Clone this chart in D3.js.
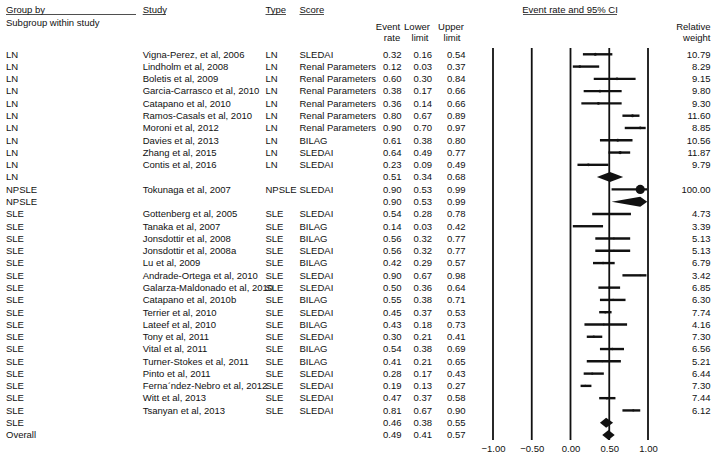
<!DOCTYPE html>
<html>
<head>
<meta charset="utf-8">
<script src="https://cdn.jsdelivr.net/npm/d3@7"></script>
<style>
  body { margin: 0; background: #fff; }
  svg text { font-family: "Liberation Sans", Arial, sans-serif; font-size: 9.5px; fill: #111; }
</style>
</head>
<body>
<script>
// rows of the forest plot, top to bottom
const groupBy = ["LN","LN","LN","LN","LN","LN","LN","LN","LN","LN","LN",
  "NPSLE","NPSLE",
  "SLE","SLE","SLE","SLE","SLE","SLE","SLE","SLE","SLE","SLE","SLE","SLE","SLE","SLE","SLE","SLE","SLE","SLE",
  "Overall"];
const studyNames = ["Vigna-Perez, et al, 2006","Lindholm et al, 2008","Boletis et al, 2009","Garcia-Carrasco et al, 2010",
  "Catapano et al, 2010","Ramos-Casals et al, 2010","Moroni et al, 2012","Davies et al, 2013","Zhang et al, 2015",
  "Contis et al, 2016","",
  "Tokunaga et al, 2007","",
  "Gottenberg et al, 2005","Tanaka et al, 2007","Jonsdottir et al, 2008","Jonsdottir et al, 2008a","Lu et al, 2009",
  "Andrade-Ortega et al, 2010","Galarza-Maldonado et al, 2010","Catapano et al, 2010b","Terrier et al, 2010",
  "Lateef et al, 2010","Tony et al, 2011","Vital et al, 2011","Turner-Stokes et al, 2011","Pinto et al, 2011",
  "Fernaˊndez-Nebro et al, 2012","Witt et al, 2013","Tsanyan et al, 2013","",
  ""];
const typeLabels = ["LN","LN","LN","LN","LN","LN","LN","LN","LN","LN","",
  "NPSLE","",
  "SLE","SLE","SLE","SLE","SLE","SLE","SLE","SLE","SLE","SLE","SLE","SLE","SLE","SLE","SLE","SLE","SLE","",
  ""];
const scoreLabels = ["SLEDAI","Renal Parameters","Renal Parameters","Renal Parameters","Renal Parameters",
  "Renal Parameters","Renal Parameters","BILAG","SLEDAI","SLEDAI","",
  "SLEDAI","",
  "SLEDAI","BILAG","BILAG","SLEDAI","BILAG","SLEDAI","SLEDAI","BILAG","SLEDAI","BILAG","SLEDAI","BILAG",
  "BILAG","SLEDAI","SLEDAI","SLEDAI","SLEDAI","",
  ""];
const eventRate = [0.32,0.12,0.60,0.38,0.36,0.80,0.90,0.61,0.64,0.23,0.51,
  0.90,0.90,
  0.54,0.14,0.56,0.56,0.42,0.90,0.50,0.55,0.45,0.43,0.30,0.54,0.41,0.28,0.19,0.47,0.81,0.46,
  0.49];
const lowerLimit = [0.16,0.03,0.30,0.17,0.14,0.67,0.70,0.38,0.49,0.09,0.34,
  0.53,0.53,
  0.28,0.03,0.32,0.32,0.29,0.67,0.36,0.38,0.37,0.18,0.21,0.38,0.21,0.17,0.13,0.37,0.67,0.38,
  0.41];
const upperLimit = [0.54,0.37,0.84,0.66,0.66,0.89,0.97,0.80,0.77,0.49,0.68,
  0.99,0.99,
  0.78,0.42,0.77,0.77,0.57,0.98,0.64,0.71,0.53,0.73,0.41,0.69,0.65,0.43,0.27,0.58,0.90,0.55,
  0.57];
const relWeight = [10.79,8.29,9.15,9.80,9.30,11.60,8.85,10.56,11.87,9.79,null,
  100.00,null,
  4.73,3.39,5.13,5.13,6.79,3.42,6.85,6.30,7.74,4.16,7.30,6.56,5.21,6.44,7.30,7.44,6.12,null,
  null];
const axisTicks = [-1, -0.5, 0, 0.5, 1];

const W = 728, H = 463;
const svg = d3.select("body").append("svg").attr("width", W).attr("height", H);

const x = d3.scaleLinear().domain([-1, 1]).range([493, 648]);
const y = d3.scaleLinear().domain([0, groupBy.length - 1]).range([54.3, 435]);
const fmt = d3.format(".2f");

const rows = groupBy.map((g, i) => ({
  i, group: g, study: studyNames[i], type: typeLabels[i], score: scoreLabels[i],
  est: eventRate[i], lo: lowerLimit[i], hi: upperLimit[i], w: relWeight[i]
}));

// header
const head = svg.append("g");
function hText(t, tx, ty, anchor) {
  head.append("text").attr("x", tx).attr("y", ty).attr("text-anchor", anchor || "start").text(t);
}
function uline(x1, x2, yy) {
  head.append("line").attr("x1", x1).attr("x2", x2).attr("y1", yy).attr("y2", yy)
    .attr("stroke", "#222").attr("stroke-width", 0.8);
}
hText("Group by", 6, 13); uline(6, 136, 14.5);
hText("Subgroup within study", 6, 25.5);
hText("Study", 142.7, 13); uline(142.7, 166, 14.5);
hText("Type", 265.5, 13); uline(265.5, 286, 14.5);
hText("Score", 299.5, 13); uline(299.5, 324, 14.5);
hText("Event rate and 95% CI", 570, 13, "middle"); uline(523, 617, 14.5);
hText("Event", 388, 29.5, "middle"); hText("rate", 392, 41, "middle");
hText("Lower", 417, 29.5, "middle"); hText("limit", 420, 41, "middle");
hText("Upper", 451, 29.5, "middle"); hText("limit", 452, 41, "middle");
hText("Relative", 710.5, 29.5, "end"); hText("weight", 710.5, 41, "end");

// vertical reference lines at each tick
const plot = svg.append("g");
plot.selectAll("line.ref").data(axisTicks).join("line").attr("class", "ref")
  .attr("x1", d => x(d)).attr("x2", d => x(d))
  .attr("y1", 48).attr("y2", 440)
  .attr("stroke", "#111").attr("stroke-width", 1.8);

// axis labels
const axis = d3.axisBottom(x).tickValues(axisTicks).tickFormat(fmt).tickSize(0).tickPadding(4);
const ax = svg.append("g").attr("transform", "translate(0,441)").call(axis);
ax.select(".domain").remove();
ax.selectAll("text").attr("font-size", null).attr("font-family", null).attr("fill", null);

// table text
const tbl = svg.append("g");
function col(key, cx, anchor, f) {
  tbl.selectAll(null).data(rows).join("text")
    .attr("x", cx).attr("y", d => y(d.i)).attr("dy", "0.35em")
    .attr("text-anchor", anchor)
    .text(d => f ? f(d[key]) : d[key]);
}
col("group", 6, "start");
col("study", 142.7, "start");
col("type", 265.5, "start");
col("score", 299.5, "start");
col("est", 401.5, "end", fmt);
col("lo", 432, "end", fmt);
col("hi", 465.5, "end", fmt);
col("w", 710.5, "end", v => v == null ? "" : fmt(v));

// study CIs and markers
const studies = rows.filter(d => d.w != null);
plot.selectAll("line.ci").data(studies).join("line").attr("class", "ci")
  .attr("x1", d => x(d.lo)).attr("x2", d => x(d.hi))
  .attr("y1", d => y(d.i)).attr("y2", d => y(d.i))
  .attr("stroke", "#111").attr("stroke-width", 2.4);
plot.selectAll("circle.pt").data(studies).join("circle").attr("class", "pt")
  .attr("cx", d => x(d.est)).attr("cy", d => y(d.i))
  .attr("r", d => 4.6 * Math.sqrt(d.w / 100))
  .attr("fill", "#111");

// summary diamonds
const sums = rows.filter(d => d.w == null);
plot.selectAll("path.dia").data(sums).join("path").attr("class", "dia")
  .attr("d", d => {
    const cy = y(d.i), h = 5;
    return `M${x(d.lo)},${cy}L${x(d.est)},${cy - h}L${x(d.hi)},${cy}L${x(d.est)},${cy + h}Z`;
  })
  .attr("fill", "#111");
</script>
</body>
</html>
